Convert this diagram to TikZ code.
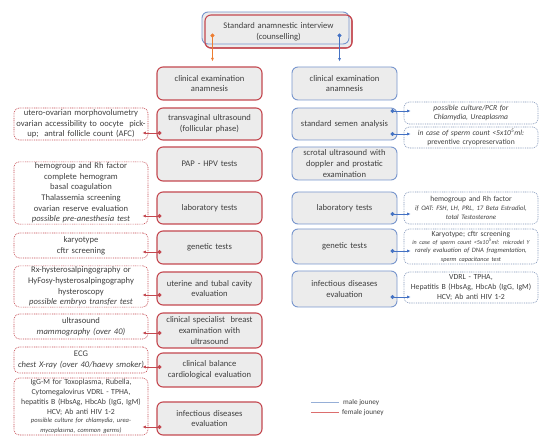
\documentclass[tikz,border=0pt]{standalone}
\usepackage{fontspec}
\setmainfont{Carlito}
\usetikzlibrary{arrows.meta,calc}
\definecolor{txtc}{RGB}{64,64,64}
\definecolor{redc}{RGB}{196,72,80}
\definecolor{bluec}{RGB}{120,150,205}
\definecolor{bluedash}{RGB}{130,150,185}
\definecolor{boxfill}{RGB}{236,236,236}
\definecolor{orangec}{RGB}{237,125,49}
\definecolor{dotblue}{RGB}{68,114,196}
\definecolor{legblue}{RGB}{150,175,215}
\definecolor{legred}{RGB}{220,110,110}
\hyphenpenalty=10000
\exhyphenpenalty=10000
\tikzset{
  txt/.style={font=\fontsize{8.6}{10.6}\selectfont, text=txtc, align=center},
  fbox/.style={txt, draw=redc, line width=1.1pt, fill=boxfill, rounded corners=6, minimum width=105, minimum height=33, inner sep=1pt, text width=101},
  mbox/.style={fbox, draw=bluec, line width=0.9pt},
  fdash/.style={txt, draw=redc, dash pattern=on 0.9pt off 0.9pt, line width=0.6pt, rounded corners=5, minimum width=134, text width=132, inner sep=1pt},
  mdash/.style={fdash, draw=bluedash},
  rcon/.style={redc, line width=0.8pt, {Circle[length=4pt]}-{Latex[length=3.5pt,width=3pt]}},
  bcon/.style={dotblue, line width=0.7pt, {Circle[length=4pt]}-{Latex[length=3.5pt,width=3pt]}},
}
\begin{document}
\begin{tikzpicture}[x=1pt,y=-1pt]
\useasboundingbox (0,0) rectangle (550,446);
% top
\node[fbox, minimum width=147, minimum height=33] (topr) at (278.5,31.5) {};
\node[mbox, minimum width=147, minimum height=32] (topb) at (275.5,28) {};
\node[fbox, fill=none, minimum width=147, minimum height=33, text width=140] (top) at (278.5,31.5) {Standard anamnestic interview\\(counselling)};
% left column
\node[fbox] (lclin) at (209.5,83.5) {clinical examination\\anamnesis};
\node[fbox, minimum height=32] (ltv) at (209.5,124) {transvaginal ultrasound\\(follicular phase)};
\node[fbox, minimum height=34] (lpap) at (209.5,164) {PAP - HPV tests};
\node[fbox, minimum height=32] (llab) at (209.5,208) {laboratory tests};
\node[fbox] (lgen) at (209.5,247.5) {genetic tests};
\node[fbox] (lut) at (209.5,288.5) {uterine and tubal cavity\\evaluation};
\node[fbox, minimum height=35] (lbr) at (209.5,330.5) {clinical specialist\ \ breast\\examination with\\ultrasound};
\node[fbox, minimum height=34] (lcb) at (209.5,370) {clinical balance\\cardiological evaluation};
\node[fbox] (linf) at (209.5,418.5) {infectious diseases\\evaluation};
% left dashed
\node[fdash, minimum height=32] (d1) at (81,124) {utero-ovarian morphovolumetry\\ovarian accessibility to oocyte\ \ pick-\\up;\ \ antral follicle count (AFC)};
\node[fdash, minimum height=62] (d2) at (81,193) {hemogroup and Rh factor\\complete hemogram\\basal coagulation\\Thalassemia screening\\ovarian reserve evaluation\\\textit{possible pre-anesthesia test}};
\node[fdash, minimum height=25] (d3) at (81,245.5) {karyotype\\cftr screening};
\node[fdash, minimum height=41] (d4) at (81,286.5) {Rx-hysterosalpingography or\\HyFosy-hysterosalpingography\\hysteroscopy\\\textit{possible embryo transfer test}};
\node[fdash, minimum height=25] (d5) at (81,326.5) {ultrasound\\\textit{mammography (over 40)}};
\node[fdash, minimum height=26] (d6) at (81,360) {ECG\\\textit{chest X-ray (over 40/haevy smoker)}};
\node[fdash, minimum height=57, font=\fontsize{7.8}{10}\selectfont] (d7) at (81,406.5) {IgG-M for Toxoplasma, Rubella,\\Cytomegalovirus VDRL - TPHA,\\hepatitis B (HbsAg, HbcAb (IgG, IgM)\\HCV; Ab anti HIV 1-2\\{\fontsize{6.5}{8.5}\selectfont\itshape possible culture for chlamydia, urea-\\mycoplasma, common germs)}};
% right column
\node[mbox] (rclin) at (344.5,83.5) {clinical examination\\anamnesis};
\node[mbox, minimum height=32] (rsem) at (344.5,124) {standard semen analysis};
\node[mbox] (rscr) at (344.5,163.5) {scrotal ultrasound with\\doppler and prostatic\\examination};
\node[mbox, minimum height=32] (rlab) at (344.5,208) {laboratory tests};
\node[mbox, minimum height=35] (rgen) at (344.5,246.5) {genetic tests};
\node[mbox, minimum height=36] (rinf) at (344.5,289) {infectious diseases\\evaluation};
% right dashed
\node[mdash, minimum height=22, font=\fontsize{7.6}{9.6}\selectfont\itshape] (e1) at (471,113) {possible culture/PCR for\\Chlamydia, Ureaplasma};
\node[mdash, minimum height=21, font=\fontsize{7.6}{9.6}\selectfont] (e2) at (471,137.5) {\textit{in case of sperm count <5x10\textsuperscript{5}ml:}\\preventive cryopreservation};
\node[mdash, minimum height=32, font=\fontsize{7.6}{9.6}\selectfont] (e3) at (471,208) {hemogroup and Rh factor\\{\fontsize{6.8}{8.8}\selectfont\itshape if OAT: FSH, LH, PRL, 17 Beta Estradiol,\\total Testosterone}};
\node[mdash, minimum height=35, font=\fontsize{7.6}{9}\selectfont] (e4) at (471,246.5) {Karyotype; cftr screening\\{\fontsize{6}{8}\selectfont\itshape in case of sperm count <5x10\textsuperscript{5}ml: microdel Y\\\fontsize{6.6}{8}\selectfont rarely evaluation of DNA fragmentation,\\\fontsize{6.2}{8}\selectfont sperm capacitance test}};
\node[mdash, minimum height=31, font=\fontsize{7.8}{9.8}\selectfont] (e5) at (471,287.5) {VDRL - TPHA,\\Hepatitis B (HbsAg, HbcAb (IgG, IgM)\\HCV; Ab anti HIV 1-2};
% top arrows
\coordinate (os) at ($(topr.south west)+(8,-15)$);
\draw[line width=0.8pt, orangec, {Circle[length=4pt]}-{Latex[length=3.5pt,width=3pt]}] (os) -- ($(lclin.north -| os)+(0,-5)$);
\coordinate (bs) at ($(topr.south east)+(-13,-15)$);
\draw[bcon] (bs) -- ($(rclin.north -| bs)+(0,-5)$);
% left connectors
\foreach \b/\d/\y in {ltv/d1/133, llab/d2/216, lgen/d3/252, lut/d4/295, lbr/d5/333, lcb/d6/367, linf/d7/427}{
  \draw[rcon] ($(\b.west |- 0,\y)+(5,0)$) -- ($(\d.east |- 0,\y)+(-6,0)$);
}
% right connectors
\draw[bcon] ($(rsem.east |- 0,111)+(-7,0)$) -- ($(e1.west |- 0,111)+(7,0)$);
\draw[bcon] ($(rsem.east |- 0,134)+(-7,0)$) -- ($(e2.west |- 0,134)+(7,0)$);
\foreach \b/\d/\y in {rlab/e3/214, rgen/e4/251, rinf/e5/297}{
  \draw[bcon] ($(\b.east |- 0,\y)+(-7,0)$) -- ($(\d.west |- 0,\y)+(7,0)$);
}
% legend
\node[txt, anchor=west, font=\fontsize{7.2}{8}\selectfont, inner sep=1pt] (lm) at (342,403) {male jouney};
\node[txt, anchor=west, font=\fontsize{7.2}{8}\selectfont, inner sep=1pt] (lf) at (341,413) {female jouney};
\coordinate (lm0) at (311,403);
\coordinate (lf0) at (311,413);
\draw[legblue, line width=1pt] (lm0) -- ($(lm.west)+(-3,0)$);
\draw[legred, line width=1pt] (lf0) -- ($(lf.west)+(-2,0)$);
\end{tikzpicture}
\end{document}
